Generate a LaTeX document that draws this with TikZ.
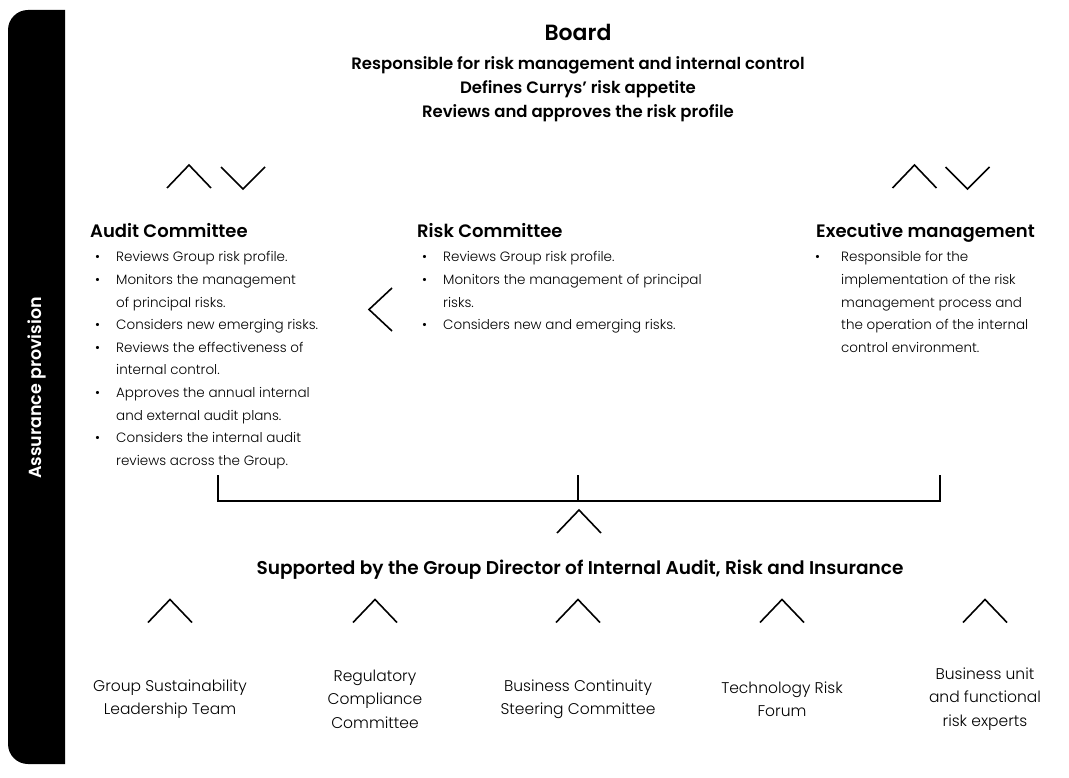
\documentclass[tikz,border=0pt]{standalone}
\usepackage{fontspec}
\setmainfont{Poppins}[UprightFont=* Light, BoldFont=* SemiBold]
\usetikzlibrary{positioning}

\tikzset{
  chev/.style={line width=1.6pt},
  chevup/.pic={\draw[chev] (-22,11.5) -- (0,-11.5) -- (22,11.5);},
  chevdown/.pic={\draw[chev] (-22,-11) -- (0,11) -- (22,-11);},
  chevleft/.pic={\draw[chev] (11.5,-21.5) -- (-11.5,0) -- (11.5,21.5);},
  brk/.style={line width=2pt},
  head/.style={inner sep=0pt, anchor=base west, font=\fontsize{18}{21}\selectfont\bfseries},
  blist/.style={inner sep=0pt, anchor=base west, font=\fontsize{13.5}{22.6}\selectfont},
  unit/.style={inner sep=0pt, align=center, font=\fontsize{15.5}{23.5}\selectfont},
}

\begin{document}
\begin{tikzpicture}[x=1pt, y=-1pt]
    \useasboundingbox (0,0) rectangle (1069,778);

    % side bar
    \fill[rounded corners=20pt] (65,10) -- (8,10) -- (8,764) -- (65,764);
    \node[rotate=90, text=white, inner sep=0pt, font=\fontsize{17.5}{20}\selectfont\bfseries] (assur) at (37,388) {Assurance provision};

    % board
    \node[inner sep=0pt, anchor=base, font=\fontsize{22}{26}\selectfont\bfseries] (board) at (578,41) {Board};
    \node[inner sep=0pt, align=center, font=\fontsize{16.5}{24}\selectfont\bfseries] (boardtxt) at (578,89)
        {Responsible for risk management and internal control\\ Defines Currys’ risk appetite\\ Reviews and approves the risk profile};

    \pic at (189,176.5) {chevup};
    \pic at (243,178) {chevdown};
    \pic at (914.5,176.5) {chevup};
    \pic at (967.5,178) {chevdown};
    \pic at (380.5,309.5) {chevleft};

    % committees
    \node[head] (audit) at (90,238) {Audit Committee};
    \node[blist] (auditlist) at (95,262) {\begin{tabular}[t]{@{}p{21pt}@{}l@{}}
        \textbullet & Reviews Group risk profile.\\
        \textbullet & Monitors the management\\
                    & of principal risks.\\
        \textbullet & Considers new emerging risks.\\
        \textbullet & Reviews the effectiveness of\\
                    & internal control.\\
        \textbullet & Approves the annual internal\\
                    & and external audit plans.\\
        \textbullet & Considers the internal audit\\
                    & reviews across the Group.
    \end{tabular}};

    \node[head] (risk) at (417,238) {Risk Committee};
    \node[blist] (risklist) at (422,262) {\begin{tabular}[t]{@{}p{21pt}@{}l@{}}
        \textbullet & Reviews Group risk profile.\\
        \textbullet & Monitors the management of principal\\
                    & risks.\\
        \textbullet & Considers new and emerging risks.
    \end{tabular}};

    \node[head] (exec) at (816,238) {Executive management};
    \node[blist] (execlist) at (815,262) {\begin{tabular}[t]{@{}p{26pt}@{}l@{}}
        \textbullet & Responsible for the\\
                    & implementation of the risk\\
                    & management process and\\
                    & the operation of the internal\\
                    & control environment.
    \end{tabular}};

    % bracket
    \coordinate (bl) at (218,475);
    \coordinate (bm) at (578,475);
    \coordinate (br) at (940,475);
    \coordinate (bbase) at (578,501);
    \draw[brk] (bl) |- (bbase) -| (br);
    \draw[brk] (bm) -- (bbase);
    \pic at (579,521.5) {chevup};

    \node[inner sep=0pt, anchor=base, font=\fontsize{18.5}{21}\selectfont\bfseries] (gdia) at (580,574)
        {Supported by the Group Director of Internal Audit, Risk and Insurance};

    % forums
    \foreach \cx in {170,375,578,782,985} \pic at (\cx,611) {chevup};
    \node[unit] (gslt) at (170,699) {Group Sustainability\\ Leadership Team};
    \node[unit] (rcc) at (375,699) {Regulatory\\ Compliance\\ Committee};
    \node[unit] (bcsc) at (578,699) {Business Continuity\\ Steering Committee};
    \node[unit] (trf) at (782,699) {Technology Risk\\ Forum};
    \node[unit] (bufr) at (985,699) {Business unit\\ and functional\\ risk experts};
\end{tikzpicture}
\end{document}
